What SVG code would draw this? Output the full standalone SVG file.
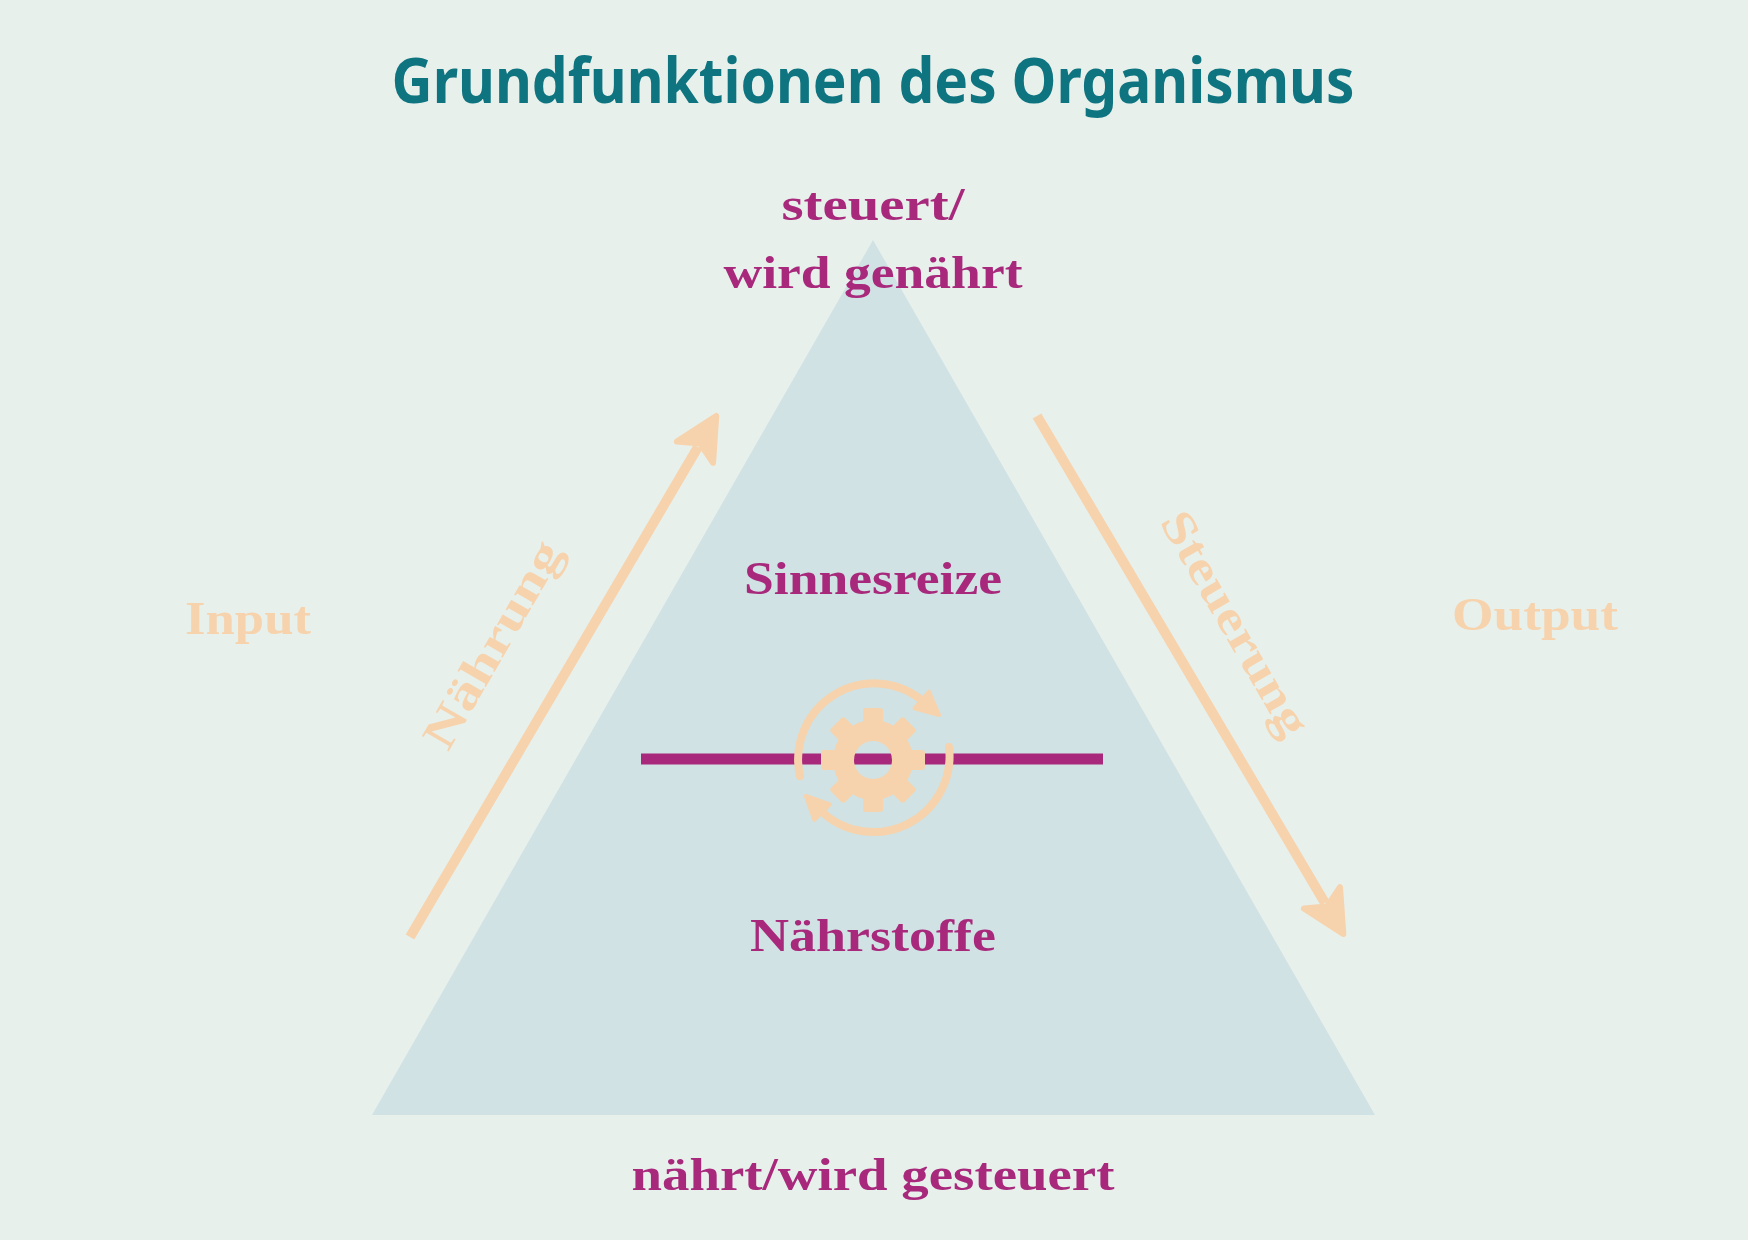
<svg xmlns="http://www.w3.org/2000/svg" width="1748" height="1240" viewBox="0 0 1748 1240">
<style>
.t{font-family:"Liberation Serif",serif;font-weight:bold;text-anchor:middle}
.p{fill:#a8297c;font-size:47px}
.o{fill:#f6d3ad;font-size:47px}
</style>
<defs>
<marker id="big" markerUnits="userSpaceOnUse" markerWidth="60" markerHeight="60" refX="10" refY="25" orient="auto" viewBox="0 0 60 50">
<path d="M4 4 L46 25 L4 46 L14 25 Z" fill="#f6d3ad" stroke="#f6d3ad" stroke-width="6" stroke-linejoin="round"/>
</marker>
<marker id="sm" markerUnits="userSpaceOnUse" markerWidth="30" markerHeight="30" refX="6" refY="14" orient="auto" viewBox="0 0 30 28">
<path d="M3 3 L26 14 L3 25 Z" fill="#f6d3ad" stroke="#f6d3ad" stroke-width="4" stroke-linejoin="round"/>
</marker>
<mask id="hole"><rect x="800" y="680" width="150" height="160" fill="#fff"/><circle cx="873" cy="760" r="19" fill="#000"/></mask>
</defs>
<rect width="1748" height="1240" fill="#e8f0ec"/>
<text x="873" y="103" textLength="963" lengthAdjust="spacingAndGlyphs" style="font-family:'Noto Sans',sans-serif;font-weight:bold;font-size:62px;fill:#0e7480;text-anchor:middle">Grundfunktionen des Organismus</text>
<g id="triangle"><polygon points="873,240 372,1115 1375,1115" fill="#d0e2e3"/></g>
<g id="connectors">
<line x1="410" y1="937" x2="698" y2="447" stroke="#f6d3ad" stroke-width="10" marker-end="url(#big)"/>
<line x1="1037" y1="416" x2="1325" y2="903" stroke="#f6d3ad" stroke-width="10" marker-end="url(#big)"/>
<line x1="641" y1="759" x2="1103" y2="759" stroke="#a8297c" stroke-width="11"/>
</g>
<g id="gear">
<g mask="url(#hole)" fill="#f6d3ad">
<circle cx="873" cy="760" r="40"/>
<g transform="translate(873 760)">
<rect x="-10" y="-52" width="20" height="104" rx="3"/>
<rect x="-10" y="-52" width="20" height="104" rx="3" transform="rotate(45)"/>
<rect x="-10" y="-52" width="20" height="104" rx="3" transform="rotate(90)"/>
<rect x="-10" y="-52" width="20" height="104" rx="3" transform="rotate(135)"/>
</g>
</g>
<path d="M800 776 A76 76 0 0 1 924 702" fill="none" stroke="#f6d3ad" stroke-width="8" stroke-linecap="round" marker-end="url(#sm)"/>
<path d="M949 747 A76 76 0 0 1 820 810" fill="none" stroke="#f6d3ad" stroke-width="8" stroke-linecap="round" marker-end="url(#sm)"/>
</g>
<g id="labels">
<text class="t p" x="873" y="220" textLength="183" lengthAdjust="spacingAndGlyphs">steuert/</text>
<text class="t p" x="873" y="288" textLength="299" lengthAdjust="spacingAndGlyphs">wird genährt</text>
<text class="t p" x="873" y="594" textLength="258" lengthAdjust="spacingAndGlyphs">Sinnesreize</text>
<text class="t p" x="873" y="951" textLength="246" lengthAdjust="spacingAndGlyphs">Nährstoffe</text>
<text class="t p" x="873" y="1190" textLength="483" lengthAdjust="spacingAndGlyphs">nährt/wird gesteuert</text>
<text class="t o" x="248" y="634" textLength="126" lengthAdjust="spacingAndGlyphs">Input</text>
<text class="t o" x="1535" y="630" textLength="166" lengthAdjust="spacingAndGlyphs">Output</text>
<text class="t o" transform="translate(506 652) rotate(-60)" x="0" y="0" textLength="232" lengthAdjust="spacingAndGlyphs">Nährung</text>
<text class="t o" transform="translate(1222 631) rotate(60)" x="0" y="0" textLength="252" lengthAdjust="spacingAndGlyphs">Steuerung</text>
</g>
</svg>
